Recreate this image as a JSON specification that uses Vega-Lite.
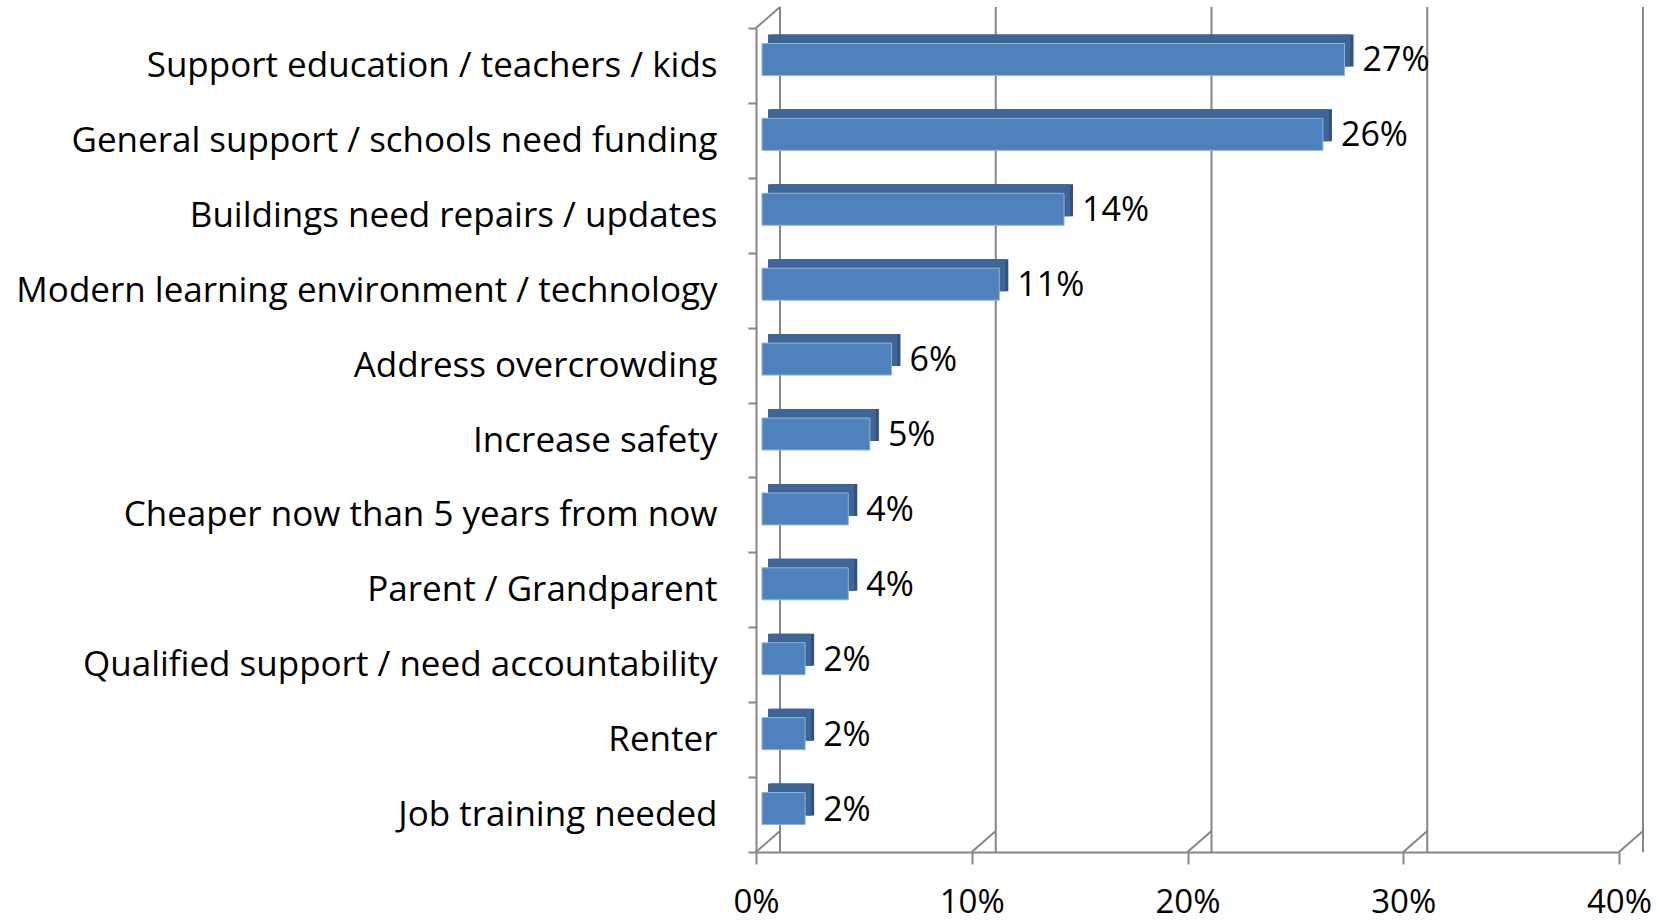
{
  "$schema": "https://vega.github.io/schema/vega-lite/v6.json",
  "width": 863,
  "height": 824,
  "autosize": {"type": "none"},
  "padding": {"left": 756, "top": 28, "right": 40, "bottom": 72},
  "background": "white",
  "config": {"view": {"stroke": null}, "font": "Open Sans"},
  "datasets": {
    "bars": [
      {"cat": "Support education / teachers / kids", "value": 0.27},
      {"cat": "General support / schools need funding", "value": 0.26},
      {"cat": "Buildings need repairs / updates", "value": 0.14},
      {"cat": "Modern learning environment / technology", "value": 0.11},
      {"cat": "Address overcrowding", "value": 0.06},
      {"cat": "Increase safety", "value": 0.05},
      {"cat": "Cheaper now than 5 years from now", "value": 0.04},
      {"cat": "Parent / Grandparent", "value": 0.04},
      {"cat": "Qualified support / need accountability", "value": 0.02},
      {"cat": "Renter", "value": 0.02},
      {"cat": "Job training needed", "value": 0.02}
    ],
    "grid": [{"v": 0, "yb": 0}, {"v": 0.1, "yb": 0}, {"v": 0.2, "yb": 0}, {"v": 0.3, "yb": 0}, {"v": 0.4, "yb": 0}],
    "corner": [{"v": 0, "yb": 1}]
  },
  "resolve": {"scale": {"y": "independent"}, "axis": {"y": "independent"}},
  "layer": [
    {
      "data": {"name": "grid"},
      "mark": {"type": "rule", "xOffset": 24, "yOffset": -21, "color": "#868686", "strokeWidth": 2},
      "encoding": {
        "x": {
          "field": "v", "type": "quantitative", "title": null,
          "scale": {"domain": [0, 0.4], "nice": false},
          "axis": {
            "values": [0, 0.1, 0.2, 0.3, 0.4], "format": ".0%", "grid": false, "labelFlush": false, "labelOverlap": false,
            "domainColor": "#868686", "domainWidth": 2, "tickColor": "#868686", "tickWidth": 2, "tickSize": 12,
            "labelPadding": 22, "labelFontSize": 33, "labelColor": "#000000", "labelFont": "Open Sans"
          }
        }
      }
    },
    {
      "data": {"name": "grid"},
      "mark": {"type": "rule", "x2Offset": 24, "y2Offset": -21, "color": "#868686", "strokeWidth": 2},
      "encoding": {
        "x": {"field": "v", "type": "quantitative"},
        "x2": {"field": "v"},
        "y": {"field": "yb", "type": "quantitative", "scale": {"domain": [0, 1]}, "axis": null},
        "y2": {"field": "yb"}
      }
    },
    {
      "data": {"name": "corner"},
      "mark": {"type": "rule", "x2Offset": 24, "y2Offset": -21, "color": "#868686", "strokeWidth": 2},
      "encoding": {
        "x": {"field": "v", "type": "quantitative"},
        "x2": {"field": "v"},
        "y": {"field": "yb", "type": "quantitative", "scale": {"domain": [0, 1]}, "axis": null},
        "y2": {"field": "yb"}
      }
    },
    {
      "data": {"name": "bars"},
      "encoding": {
        "y": {
          "field": "cat", "type": "nominal", "sort": null, "title": null,
          "scale": {"paddingInner": 0, "paddingOuter": 0},
          "axis": {
            "tickBand": "extent", "domainColor": "#868686", "domainWidth": 2, "tickColor": "#868686", "tickWidth": 2,
            "tickSize": 8, "labelPadding": 31, "labelFontSize": 35, "labelColor": "#000000", "labelLimit": 1000,
            "labelFont": "Open Sans"
          }
        },
        "x": {"field": "value", "type": "quantitative"}
      },
      "layer": [
        {"mark": {"type": "bar", "height": 32, "xOffset": 15, "x2Offset": 15, "yOffset": -15, "color": "#2F5283"}},
        {"mark": {"type": "bar", "height": 32, "xOffset": 12, "x2Offset": 6, "yOffset": -15, "color": "#3D6595"}},
        {"mark": {"type": "bar", "height": 32, "xOffset": 6, "x2Offset": 6, "yOffset": -6, "color": "#4F81BD", "stroke": "#93B1D8", "strokeWidth": 1}},
        {
          "mark": {"type": "text", "align": "left", "baseline": "middle", "dx": 24, "dy": -4, "fontSize": 34, "color": "#000000", "font": "Open Sans"},
          "encoding": {"text": {"field": "value", "type": "quantitative", "format": ".0%"}}
        }
      ]
    }
  ]
}
